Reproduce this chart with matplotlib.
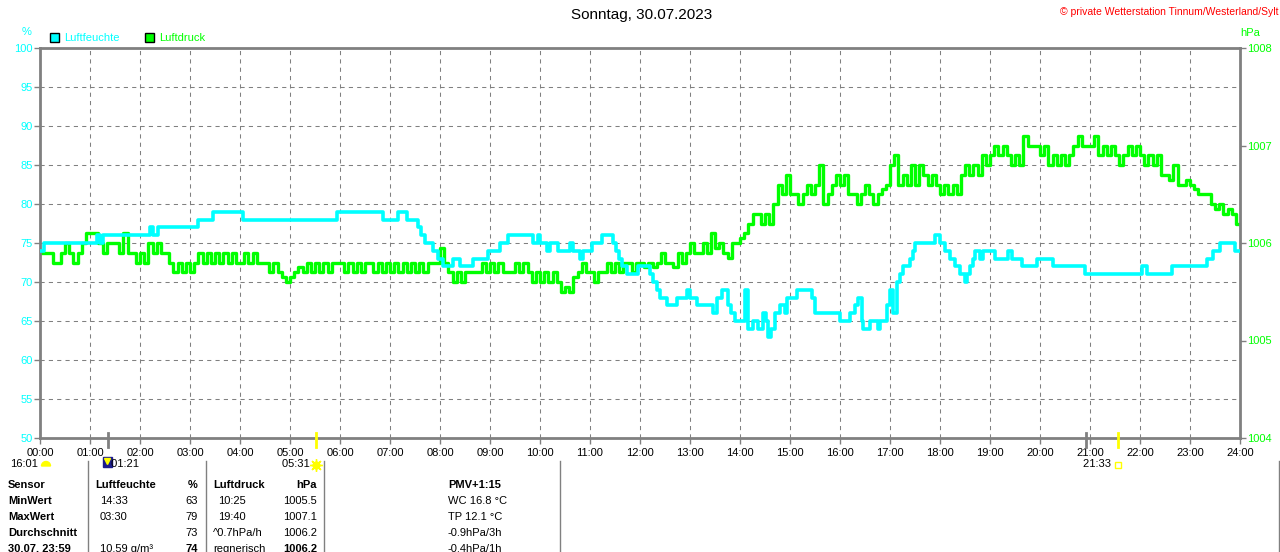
import numpy as np
import matplotlib
matplotlib.use("Agg")
from matplotlib import pyplot as plt
from matplotlib import transforms
from matplotlib.patches import Rectangle, Wedge

CYAN = "#00ffff"
GREEN = "#00ff00"
GRAY = "#808080"
YELLOW = "#ffff00"

plt.rcParams["font.family"] = ["Liberation Sans", "DejaVu Sans"]

# Luftfeuchte (%) - Zeitpunkte der Wertwechsel
hum_times = ["00:00", "00:05", "01:08", "01:12", "01:15", "02:12", "02:16", "02:22",
             "03:10", "03:28", "04:03", "05:56", "06:52", "07:10", "07:20", "07:33",
             "07:37", "07:42", "07:51", "07:57", "08:04", "08:16", "08:24", "08:40",
             "08:58", "09:12", "09:21", "09:52", "09:57", "10:00", "10:08", "10:12",
             "10:22", "10:36", "10:40", "10:48", "10:52", "11:02", "11:14", "11:28",
             "11:31", "11:35", "11:38", "11:44", "11:58", "12:12", "12:16", "12:20",
             "12:24", "12:32", "12:44", "12:56", "13:00", "13:08", "13:28", "13:32",
             "13:38", "13:45", "13:49", "13:54", "14:06", "14:10", "14:16", "14:22",
             "14:27", "14:31", "14:33", "14:37", "14:42", "14:48", "14:54", "14:56",
             "15:08", "15:26", "15:30", "16:00", "16:12", "16:18", "16:22", "16:26",
             "16:28", "16:36", "16:45", "16:48", "16:56", "17:00", "17:04", "17:08",
             "17:12", "17:16", "17:24", "17:28", "17:30", "17:54", "18:00", "18:06",
             "18:12", "18:18", "18:24", "18:30", "18:32", "18:36", "18:40", "18:42",
             "18:48", "18:52", "19:06", "19:22", "19:26", "19:38", "19:56", "20:16",
             "20:54", "22:02", "22:08", "22:38", "23:20", "23:28", "23:36", "23:54"]
hum_values = [74, 75, 76, 75, 76, 77, 76, 77,
              78, 79, 78, 79, 78, 79, 78, 77,
              76, 75, 74, 73, 72, 73, 72, 73,
              74, 75, 76, 75, 76, 75, 74, 75,
              74, 75, 74, 73, 74, 75, 76, 75,
              74, 73, 72, 71, 72, 71, 70, 69,
              68, 67, 68, 69, 68, 67, 66, 68,
              69, 67, 66, 65, 69, 64, 65, 64,
              66, 65, 63, 64, 66, 67, 66, 68,
              69, 68, 66, 65, 66, 67, 68, 65,
              64, 65, 64, 65, 67, 69, 66, 70,
              71, 72, 73, 74, 75, 76, 75, 74,
              73, 72, 71, 70, 71, 72, 73, 74,
              73, 74, 73, 74, 73, 72, 73, 72,
              71, 72, 71, 72, 73, 74, 75, 74]

# Luftdruck (hPa) - alle 5 Minuten, eine Zeile pro Stunde
pressure = [
    1005.9, 1005.9, 1005.9, 1005.8, 1005.8, 1005.9, 1006.0, 1005.9, 1005.8, 1005.9, 1006.0, 1006.1,
    1006.1, 1006.1, 1006.0, 1005.9, 1006.0, 1006.0, 1006.0, 1005.9, 1006.1, 1005.9, 1005.9, 1005.8,
    1005.9, 1005.8, 1006.0, 1005.9, 1006.0, 1005.9, 1005.9, 1005.8, 1005.7, 1005.8, 1005.7, 1005.8,
    1005.7, 1005.8, 1005.9, 1005.8, 1005.9, 1005.8, 1005.9, 1005.8, 1005.9, 1005.8, 1005.9, 1005.8,
    1005.8, 1005.9, 1005.8, 1005.9, 1005.8, 1005.8, 1005.8, 1005.7, 1005.8, 1005.7, 1005.65, 1005.6,
    1005.65, 1005.7, 1005.75, 1005.7, 1005.8, 1005.7, 1005.8, 1005.7, 1005.8, 1005.7, 1005.8, 1005.8,
    1005.8, 1005.7, 1005.8, 1005.7, 1005.8, 1005.7, 1005.8, 1005.8, 1005.7, 1005.8, 1005.7, 1005.8,
    1005.7, 1005.8, 1005.7, 1005.8, 1005.7, 1005.8, 1005.7, 1005.8, 1005.7, 1005.8, 1005.8, 1005.8,
    1005.95, 1005.8, 1005.7, 1005.6, 1005.7, 1005.6, 1005.7, 1005.7, 1005.7, 1005.7, 1005.8, 1005.7,
    1005.8, 1005.7, 1005.8, 1005.7, 1005.7, 1005.7, 1005.8, 1005.7, 1005.8, 1005.7, 1005.6, 1005.7,
    1005.6, 1005.7, 1005.6, 1005.7, 1005.6, 1005.5, 1005.55, 1005.5, 1005.65, 1005.7, 1005.8, 1005.7,
    1005.7, 1005.6, 1005.7, 1005.7, 1005.8, 1005.7, 1005.8, 1005.7, 1005.8, 1005.8, 1005.7, 1005.8,
    1005.8, 1005.75, 1005.8, 1005.75, 1005.8, 1005.9, 1005.8, 1005.8, 1005.75, 1005.9, 1005.8, 1005.9,
    1006.0, 1005.9, 1005.9, 1006.0, 1005.9, 1006.1, 1005.95, 1006.0, 1005.9, 1005.85, 1006.0, 1006.0,
    1006.05, 1006.1, 1006.2, 1006.3, 1006.3, 1006.2, 1006.3, 1006.2, 1006.4, 1006.6, 1006.5, 1006.7,
    1006.5, 1006.5, 1006.4, 1006.5, 1006.6, 1006.5, 1006.6, 1006.8, 1006.4, 1006.5, 1006.6, 1006.7,
    1006.6, 1006.7, 1006.5, 1006.5, 1006.4, 1006.5, 1006.6, 1006.5, 1006.4, 1006.5, 1006.55, 1006.6,
    1006.8, 1006.9, 1006.6, 1006.7, 1006.6, 1006.8, 1006.6, 1006.8, 1006.7, 1006.6, 1006.7, 1006.6,
    1006.5, 1006.6, 1006.5, 1006.6, 1006.5, 1006.7, 1006.8, 1006.7, 1006.8, 1006.7, 1006.9, 1006.8,
    1006.9, 1007.0, 1006.9, 1007.0, 1006.9, 1006.8, 1006.9, 1006.8, 1007.1, 1007.0, 1007.0, 1007.0,
    1006.9, 1007.0, 1006.8, 1006.9, 1006.8, 1006.9, 1006.8, 1006.9, 1007.0, 1007.1, 1007.0, 1007.0,
    1007.0, 1007.1, 1006.9, 1007.0, 1006.9, 1007.0, 1006.9, 1006.8, 1006.9, 1007.0, 1006.9, 1007.0,
    1006.9, 1006.8, 1006.9, 1006.8, 1006.9, 1006.7, 1006.7, 1006.65, 1006.8, 1006.6, 1006.6, 1006.65,
    1006.6, 1006.55, 1006.5, 1006.5, 1006.5, 1006.4, 1006.35, 1006.4, 1006.3, 1006.35, 1006.3, 1006.2,
]
press_step_min = 5

hours = list(range(25))
hum_ticks = list(range(50, 101, 5))
press_ticks = [1004, 1005, 1006, 1007, 1008]

# Sonne / Mond Ereignisse
moon_set = "01:21"
sun_rise = "05:31"
sun_set = "21:33"
moon_mark = "20:55"
moon_rise_prev = "16:01"

table_rows = [
    ["Sensor", "Luftfeuchte", "%", "Luftdruck", "hPa", "PMV+1:15"],
    ["MinWert", "14:33", "63", "10:25", "1005.5", "WC 16.8 °C"],
    ["MaxWert", "03:30", "79", "19:40", "1007.1", "TP 12.1 °C"],
    ["Durchschnitt", "", "73", "^0.7hPa/h", "1006.2", "-0.9hPa/3h"],
    ["30.07. 23:59", "10.59 g/m³", "74", "regnerisch", "1006.2", "-0.4hPa/1h"],
]


def to_hours(s):
    h, m = s.split(":")
    return int(h) + int(m) / 60


W, H = 1280, 552
fig = plt.figure(figsize=(W / 100, H / 100), dpi=100)
fig.patch.set_facecolor("white")

ax = fig.add_axes([40 / W, 114 / H, 1200 / W, 390 / H])
ax2 = ax.twinx()
lay = fig.add_axes([0, 0, 1, 1], zorder=-1)
lay.set_xlim(0, W)
lay.set_ylim(H, 0)
lay.axis("off")

ax.set_xlim(0, 24)
ax.set_ylim(50, 100)
ax2.set_ylim(1004, 1008)

ax.set_xticks(hours)
ax.set_xticklabels([f"{h:02d}:00" for h in hours])
ax.set_yticks(hum_ticks)
ax2.set_yticks(press_ticks)
ax.set_axisbelow(True)
ax.grid(True, color=GRAY, linestyle=(0, (4, 4)), linewidth=0.75)

ax.tick_params(axis="x", colors=GRAY, labelcolor="black", length=4, width=1, labelsize=8, pad=3)
ax.tick_params(axis="y", colors=GRAY, labelcolor=CYAN, length=4, width=1, labelsize=8, pad=1)
ax2.tick_params(axis="y", colors=GRAY, labelcolor=GREEN, length=4, width=1, labelsize=8, pad=1)
for sp in ax.spines.values():
    sp.set_color(GRAY)
    sp.set_linewidth(2)
for sp in ax2.spines.values():
    sp.set_visible(False)

# Luftdruck (auf der rechten Skala) zuerst, Luftfeuchte darüber
p_t = [i * press_step_min / 60 for i in range(len(pressure))] + [24]
p_v = pressure + [pressure[-1]]
ax.step(p_t, p_v, where="post", color=GREEN, linewidth=2.4, transform=ax2.transData, zorder=2)

h_t = [to_hours(s) for s in hum_times] + [24]
h_v = hum_values + [hum_values[-1]]
ax.step(h_t, h_v, where="post", color=CYAN, linewidth=2.6, zorder=3)

# Markierungen unter der Zeitachse
xt = ax.get_xaxis_transform()
for t, c in [(moon_set, GRAY), (moon_mark, GRAY), (sun_rise, YELLOW), (sun_set, YELLOW)]:
    ax.plot([to_hours(t)] * 2, [-0.022, 0.012], transform=xt, color=c, linewidth=2, clip_on=False, zorder=5)

bt = transforms.blended_transform_factory(ax.transData, lay.transData)
fs = 8
lay.text(10, 464, moon_rise_prev, fontsize=fs, va="center")
lay.add_patch(Wedge((46, 466), 4.5, 180, 360, color=YELLOW))
t = to_hours(moon_set)
lay.add_patch(Rectangle((103, 457), 9, 10, color="#1c1c8c"))
lay.plot([107], [461], marker="v", color=YELLOW, markersize=4)
lay.text(t, 464, " " + moon_set, transform=bt, fontsize=fs, va="center", ha="left")
t = to_hours(sun_rise)
lay.text(t, 464, sun_rise + "  ", transform=bt, fontsize=fs, va="center", ha="right")
lay.plot([t], [465], transform=bt, marker=(8, 2, 0), color=YELLOW, markersize=9, mew=1)
lay.plot([t], [465], transform=bt, marker="o", color=YELLOW, markersize=5)
t = to_hours(sun_set)
lay.text(t, 464, sun_set + "  ", transform=bt, fontsize=fs, va="center", ha="right")
lay.plot([t], [465], transform=bt, marker="s", mfc="white", mec=YELLOW, markersize=5, mew=1)

# Kopfzeile und Legende
lay.text(642, 15, "Sonntag, 30.07.2023", fontsize=11, ha="center", va="center")
lay.text(1278, 12, "© private Wetterstation Tinnum/Westerland/Sylt", fontsize=7.5,
         color="#ff0000", ha="right", va="center")
lay.text(27, 32, "%", fontsize=fs, color=CYAN, ha="center", va="center")
lay.text(1240, 33, "hPa", fontsize=fs, color=GREEN, ha="left", va="center")
lay.add_patch(Rectangle((50, 33), 9, 9, facecolor=CYAN, edgecolor="black", linewidth=1))
lay.text(64, 38, "Luftfeuchte", fontsize=fs, color=CYAN, va="center")
lay.add_patch(Rectangle((145, 33), 9, 9, facecolor=GREEN, edgecolor="black", linewidth=1))
lay.text(159, 38, "Luftdruck", fontsize=fs, color=GREEN, va="center")

# Tabelle
for x in [88, 206, 324, 560, 1279]:
    lay.plot([x, x], [461, H], color=GRAY, linewidth=1)
row_y = [485, 501, 517, 533, 549]
for r, (row, y) in enumerate(zip(table_rows, row_y)):
    head = r == 0
    last = r == len(table_rows) - 1
    lay.text(8, y, row[0], fontsize=fs, fontweight="bold", va="center")
    lay.text(95 if head else 100, y, row[1], fontsize=fs, fontweight="bold" if head else "normal", va="center")
    lay.text(198, y, row[2], fontsize=fs, fontweight="bold" if head or last else "normal", va="center", ha="right")
    lay.text(213 if head or r >= 3 else 218, y, row[3], fontsize=fs, fontweight="bold" if head else "normal", va="center")
    lay.text(317, y, row[4], fontsize=fs, fontweight="bold" if head or last else "normal", va="center", ha="right")
    lay.text(448, y, row[5], fontsize=fs, fontweight="bold" if head else "normal", va="center")

fig.savefig("out.png", dpi=100, facecolor="white")
